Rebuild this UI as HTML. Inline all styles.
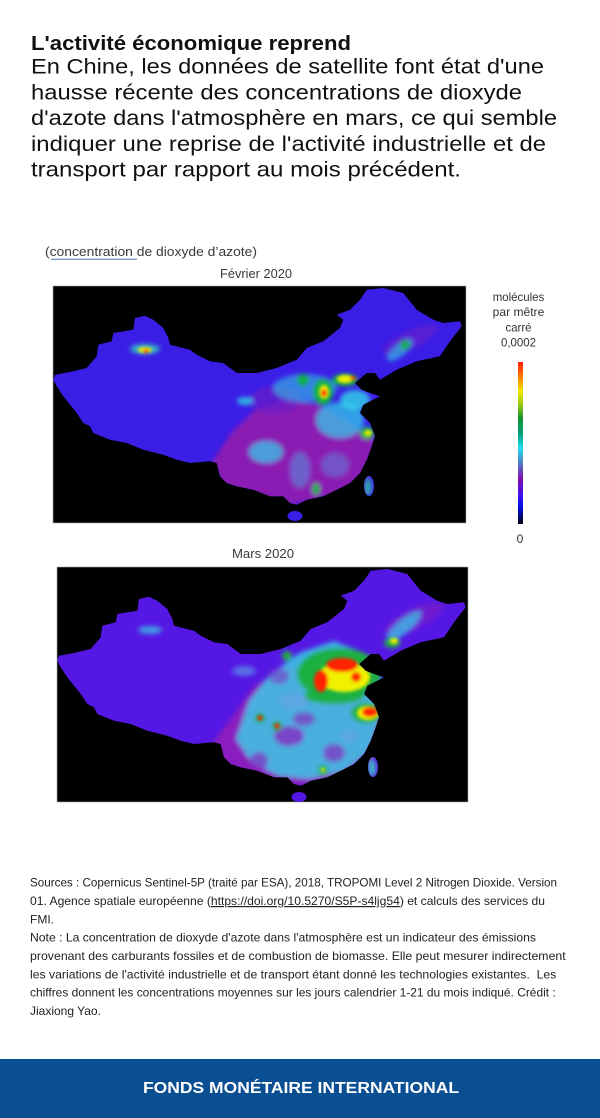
<!DOCTYPE html>
<html><head><meta charset="utf-8">
<style>
html,body{margin:0;padding:0;background:#fff;}
svg{display:block;}
text{font-family:"Liberation Sans",Arial,sans-serif;}
</style></head>
<body>
<svg width="600" height="1118" viewBox="0 0 600 1118" xmlns="http://www.w3.org/2000/svg">
<defs>
  <path id="china" d="M53.3,379.7 L55,374.7 L70,372 L86.7,368 L96.7,356.3 L98.3,344.7 L111.7,341.3 L113.3,333 L133.3,329.7 L135,318 L145,315.7 L153.3,319.7 L163.3,328 L168.3,338 L170,344.7 L190,349.7 L196.7,354.7 L210,361.3 L223.3,363 L236.7,373 L256.7,373 L276.7,368 L296.7,359.7 L306.7,348 L323.3,341.3 L340,328 L343.3,319.7 L336.7,314.7 L350,309.7 L360,299.7 L366.7,289.7 L383.3,288 L403.3,293 L416.7,309.7 L433.3,319.7 L443.3,323 L460,321.3 L461.7,326.3 L450,341.3 L440,356.3 L416.7,361.3 L396.7,369.7 L380,379.7 L375,373 L366.7,373 L355,383 L361.7,389.7 L370,393 L380,396.3 L363.3,404.7 L360,413 L370,423 L375,436.3 L371.7,446.3 L366.7,459.7 L360,473 L350,483 L336.7,489.7 L323.3,496.3 L306.7,499.7 L296.7,504.7 L290,503 L283.3,496.3 L270,496.3 L253.3,489.7 L236.7,486.3 L226.7,483 L220,476.3 L216.7,463 L210,461.3 L190,463 L176.7,459.7 L163.3,454.7 L143.3,449.7 L126.7,443 L110,439.7 L93.3,433 L90,426.3 L83.3,423 L76.7,413 L63.3,396.3 L56.7,386.3 Z M287.5,516 a7.5,5 0 1,0 15,0 a7.5,5 0 1,0 -15,0 Z M364,486 a5,10 0 1,0 10,0 a5,10 0 1,0 -10,0 Z"/>
  <clipPath id="cc"><use href="#china"/></clipPath>
  <filter id="bl" x="-50%" y="-50%" width="200%" height="200%"><feGaussianBlur stdDeviation="2.5"/></filter>
  <filter id="bl2" x="-50%" y="-50%" width="200%" height="200%"><feGaussianBlur stdDeviation="1.5"/></filter>
  <linearGradient id="cbar" x1="0" y1="0" x2="0" y2="1">
    <stop offset="0" stop-color="#ff1a00"/>
    <stop offset="0.08" stop-color="#ff7000"/>
    <stop offset="0.18" stop-color="#f0e800"/>
    <stop offset="0.27" stop-color="#90c810"/>
    <stop offset="0.35" stop-color="#109030"/>
    <stop offset="0.45" stop-color="#00a080"/>
    <stop offset="0.53" stop-color="#20e0f0"/>
    <stop offset="0.62" stop-color="#5080c0"/>
    <stop offset="0.72" stop-color="#8010b0"/>
    <stop offset="0.82" stop-color="#4010e8"/>
    <stop offset="0.9" stop-color="#0010e0"/>
    <stop offset="1" stop-color="#000010"/>
  </linearGradient>
</defs>

<rect width="600" height="1118" fill="#fff"/>

<!-- Title -->
<text x="31" y="50" font-size="20" font-weight="bold" fill="#111" textLength="320" lengthAdjust="spacingAndGlyphs">L'activité économique reprend</text>
<g font-size="21.5" fill="#111">
<text x="31" y="73.5" textLength="513" lengthAdjust="spacingAndGlyphs">En Chine, les données de satellite font état d'une</text>
<text x="31" y="99.3" textLength="491" lengthAdjust="spacingAndGlyphs">hausse récente des concentrations de dioxyde</text>
<text x="31" y="125.1" textLength="526" lengthAdjust="spacingAndGlyphs">d'azote dans l'atmosphère en mars, ce qui semble</text>
<text x="31" y="150.9" textLength="515" lengthAdjust="spacingAndGlyphs">indiquer une reprise de l'activité industrielle et de</text>
<text x="31" y="176.7" textLength="430" lengthAdjust="spacingAndGlyphs">transport par rapport au mois précédent.</text>
</g>

<!-- caption -->
<text x="45" y="256" font-size="12.5" fill="#3a3a3a" textLength="212" lengthAdjust="spacingAndGlyphs">(concentration de dioxyde d’azote)</text>
<line x1="51" y1="259.3" x2="137" y2="259.3" stroke="#4a78b0" stroke-width="1"/>
<text x="256" y="278" font-size="12.5" fill="#3a3a3a" text-anchor="middle" textLength="72" lengthAdjust="spacingAndGlyphs">Février 2020</text>

<!-- Map 1 -->
<rect x="53" y="286" width="413" height="237" fill="#000" stroke="#aaa" stroke-width="0.6"/>
<g clip-path="url(#cc)">
  <rect x="50" y="280" width="420" height="250" fill="#3b1ee6"/>
  <g filter="url(#bl)">
    <path d="M232,432 L255,410 L285,400 L318,405 L345,420 L375,440 L372,470 L350,490 L310,502 L285,505 L255,495 L222,485 L212,462 Z" fill="#8a1ab4"/>
    <ellipse cx="275" cy="400" rx="25" ry="14" fill="#6a1cc8" opacity="0.7"/>
    <ellipse cx="410" cy="340" rx="30" ry="9" fill="#6a1ec8" opacity="0.6" transform="rotate(-25 410 340)"/>
    <ellipse cx="305" cy="388" rx="32" ry="14" fill="#30d0e6" opacity="0.55"/>
    <ellipse cx="340" cy="420" rx="24" ry="18" fill="#30d4e8" opacity="0.7"/>
    <ellipse cx="355" cy="400" rx="15" ry="10" fill="#30d8e8" opacity="0.8"/>
    <ellipse cx="266" cy="452" rx="17" ry="11" fill="#30d4e8" opacity="0.7"/>
    <ellipse cx="300" cy="470" rx="10" ry="18" fill="#50a8e0" opacity="0.5"/>
    <ellipse cx="335" cy="465" rx="14" ry="12" fill="#50a8e0" opacity="0.4"/>
    <ellipse cx="400" cy="350" rx="16" ry="6" fill="#30d0e6" opacity="0.6" transform="rotate(-40 400 350)"/>
    <ellipse cx="245" cy="401" rx="8" ry="4" fill="#30d8e8" opacity="0.8"/>
    <ellipse cx="145" cy="349" rx="15" ry="5" fill="#30d8c0" opacity="0.8"/>
    <ellipse cx="323" cy="392" rx="10" ry="13" fill="#10b040"/>
    <ellipse cx="345" cy="380" rx="13" ry="6" fill="#10b040"/>
    <ellipse cx="303" cy="380" rx="6" ry="6" fill="#10b040"/>
    <ellipse cx="367" cy="433" rx="7" ry="6" fill="#10b040"/>
    <ellipse cx="316" cy="489" rx="4" ry="6" fill="#10b040"/>
    <ellipse cx="405" cy="345" rx="5" ry="5" fill="#10b040"/>
    <ellipse cx="368" cy="487" rx="4" ry="9" fill="#30c8a0" opacity="0.8"/>
  </g>
  <g filter="url(#bl2)">
    <ellipse cx="345" cy="379" rx="8" ry="4" fill="#f0f000"/>
    <ellipse cx="324" cy="392" rx="5" ry="7" fill="#f0f000"/>
    <ellipse cx="368" cy="433" rx="4" ry="3" fill="#f0f000"/>
    <ellipse cx="145" cy="350" rx="7" ry="3" fill="#f0f000"/>
    <ellipse cx="324" cy="393" rx="3" ry="4" fill="#ff2000"/>
    <ellipse cx="146" cy="351" rx="3" ry="2" fill="#ff2000"/>
    <ellipse cx="353" cy="378" rx="3" ry="2" fill="#ff3000"/>
  </g>
</g>

<!-- Legend -->
<g font-size="12" fill="#333" text-anchor="middle">
<text x="518.5" y="301" textLength="51.6" lengthAdjust="spacingAndGlyphs">molécules</text>
<text x="518.5" y="316" textLength="51.6" lengthAdjust="spacingAndGlyphs">par mêtre</text>
<text x="518.5" y="331.7" textLength="26" lengthAdjust="spacingAndGlyphs">carré</text>
<text x="518.5" y="346.7" textLength="35" lengthAdjust="spacingAndGlyphs">0,0002</text>
<text x="520" y="543">0</text>
</g>
<rect x="518" y="362" width="5" height="162" fill="url(#cbar)"/>

<!-- Map 2 -->
<text x="263" y="558" font-size="12.5" fill="#3a3a3a" text-anchor="middle" textLength="62" lengthAdjust="spacingAndGlyphs">Mars 2020</text>
<rect x="57" y="567" width="411" height="235" fill="#000" stroke="#aaa" stroke-width="0.6"/>
<g transform="translate(4,281)">
<g clip-path="url(#cc)">
  <rect x="50" y="280" width="420" height="250" fill="#5518e4"/>
  <g filter="url(#bl)">
    <path d="M225,440 L250,405 L285,385 L320,375 L350,385 L378,420 L375,470 L350,492 L310,503 L285,506 L255,496 L220,486 L208,462 Z" fill="#8a1cc0"/>
    <ellipse cx="410" cy="338" rx="32" ry="10" fill="#7a20c8" opacity="0.7" transform="rotate(-25 410 338)"/>
    <path d="M245,420 L265,395 L295,372 L330,360 L360,372 L378,400 L375,440 L365,470 L340,490 L305,498 L275,495 L248,482 L232,458 Z" fill="#38d4e6" opacity="0.8"/>
    <ellipse cx="285" cy="455" rx="15" ry="10" fill="#8a20c0" opacity="0.75"/>
    <ellipse cx="330" cy="472" rx="11" ry="9" fill="#8a20c0" opacity="0.65"/>
    <ellipse cx="300" cy="438" rx="11" ry="7" fill="#8a20c0" opacity="0.6"/>
    <ellipse cx="255" cy="480" rx="9" ry="9" fill="#8a20c0" opacity="0.65"/>
    <ellipse cx="275" cy="395" rx="10" ry="8" fill="#8a20c0" opacity="0.5"/>
    <ellipse cx="345" cy="455" rx="8" ry="6" fill="#6aa0e8" opacity="0.6"/>
    <ellipse cx="290" cy="420" rx="15" ry="8" fill="#6aa0e8" opacity="0.6"/>
    <ellipse cx="400" cy="345" rx="22" ry="7" fill="#38d0e6" opacity="0.7" transform="rotate(-40 400 345)"/>
    <ellipse cx="240" cy="390" rx="12" ry="5" fill="#5aa8e8" opacity="0.6"/>
    <ellipse cx="146" cy="349" rx="12" ry="4" fill="#38d0e6" opacity="0.7"/>
    <ellipse cx="335" cy="393" rx="42" ry="26" fill="#1cb040"/>
    <ellipse cx="330" cy="415" rx="30" ry="8" fill="#1cb040"/>
    <ellipse cx="362" cy="432" rx="15" ry="10" fill="#1cb040"/>
    <ellipse cx="388" cy="362" rx="8" ry="5" fill="#1cb040"/>
    <circle cx="256" cy="437" r="5" fill="#1cb040"/>
    <circle cx="273" cy="445" r="5" fill="#1cb040"/>
    <circle cx="319" cy="489" r="5" fill="#1cb040"/>
    <circle cx="283" cy="375" r="5" fill="#1cb040"/>
    <ellipse cx="368" cy="487" rx="4" ry="9" fill="#38d4c0" opacity="0.85"/>
  </g>
  <g filter="url(#bl2)">
    <ellipse cx="340" cy="396" rx="26" ry="15" fill="#f0f000"/>
    <ellipse cx="364" cy="432" rx="11" ry="7" fill="#f0f000"/>
    <ellipse cx="390" cy="360" rx="4" ry="3" fill="#f0f000"/>
    <circle cx="319" cy="489" r="2" fill="#f0f000"/>
    <ellipse cx="338" cy="384" rx="16" ry="7" fill="#ff2000"/>
    <ellipse cx="317" cy="400" rx="7" ry="11" fill="#ff2000"/>
    <ellipse cx="352" cy="396" rx="5" ry="5" fill="#ff2000"/>
    <ellipse cx="366" cy="431" rx="8" ry="5" fill="#ff2000"/>
    <circle cx="256" cy="437" r="2.5" fill="#ff2000"/>
    <circle cx="273" cy="445" r="2.5" fill="#ff2000"/>
  </g>
</g>
</g>

<!-- Sources -->
<g font-size="12" fill="#222">
<text x="30" y="886.7" textLength="527" lengthAdjust="spacingAndGlyphs">Sources : Copernicus Sentinel-5P (traité par ESA), 2018, TROPOMI Level 2 Nitrogen Dioxide. Version</text>
<text x="30" y="905" textLength="515" lengthAdjust="spacingAndGlyphs">01. Agence spatiale européenne (<tspan text-decoration="underline">https://doi.org/10.5270/S5P-s4ljg54</tspan>) et calculs des services du</text>
<text x="30" y="923.3">FMI.</text>
<text x="30" y="941.7" textLength="506" lengthAdjust="spacingAndGlyphs">Note : La concentration de dioxyde d'azote dans l'atmosphère est un indicateur des émissions</text>
<text x="30" y="960" textLength="535.7" lengthAdjust="spacingAndGlyphs">provenant des carburants fossiles et de combustion de biomasse. Elle peut mesurer indirectement</text>
<text x="30" y="978.3" textLength="526.3" lengthAdjust="spacingAndGlyphs">les variations de l'activité industrielle et de transport étant donné les technologies existantes.&#160; Les</text>
<text x="30" y="996.7" textLength="525.7" lengthAdjust="spacingAndGlyphs">chiffres donnent les concentrations moyennes sur les jours calendrier 1-21 du mois indiqué. Crédit :</text>
<text x="30" y="1015">Jiaxiong Yao.</text>
</g>

<!-- Footer -->
<rect x="0" y="1059" width="600" height="59" fill="#0b4f93"/>
<text x="301" y="1093" font-size="16" font-weight="bold" fill="#fff" text-anchor="middle" textLength="316" lengthAdjust="spacingAndGlyphs">FONDS MONÉTAIRE INTERNATIONAL</text>
</svg>
</body></html>
